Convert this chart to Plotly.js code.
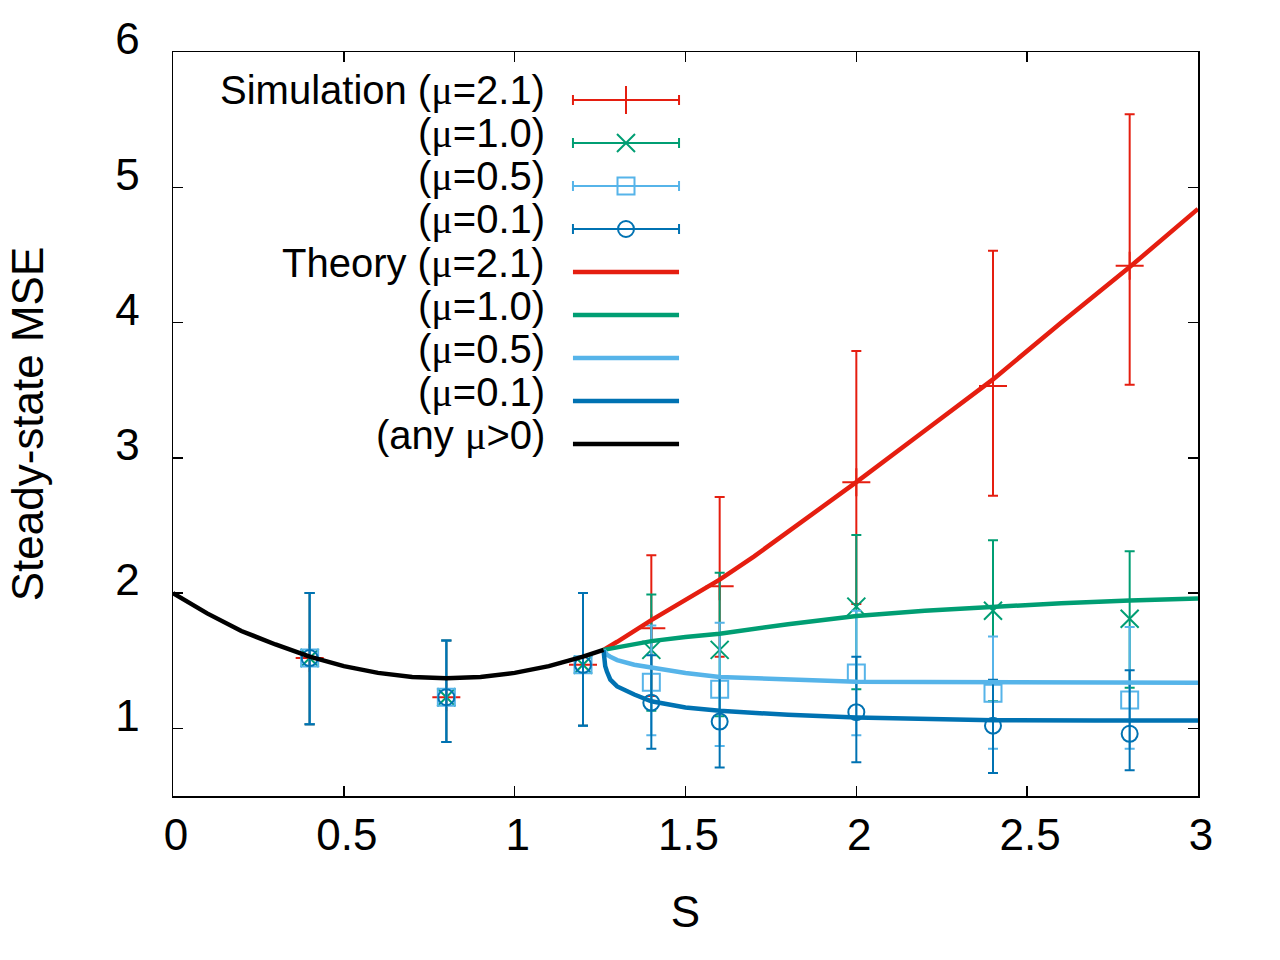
<!DOCTYPE html>
<html>
<head>
<meta charset="utf-8">
<script src="https://cdn.plot.ly/plotly-3.0.1.min.js"></script>
<style>
  body { margin: 0; background: #fff; }
</style>
</head>
<body>
<div id="chart" style="width:1280px;height:960px;"></div>
<script>
// simulation points (x = S), mean and error-bar ends
const simS = [0.4, 0.8, 1.2, 1.4, 1.6, 2.0, 2.4, 2.8];

const sim21 = [1.52, 1.23, 1.47, 1.74, 2.05, 2.82, 3.53, 4.42];
const sim21Hi = [2.00, 1.65, 2.00, 2.28, 2.71, 3.79, 4.53, 5.54];
const sim21Lo = [1.03, 0.90, 1.02, 1.24, 1.53, 1.92, 2.72, 3.54];

const sim10 = [1.52, 1.23, 1.47, 1.58, 1.58, 1.90, 1.87, 1.81];
const sim10Hi = [2.00, 1.65, 2.00, 1.99, 2.15, 2.43, 2.39, 2.31];
const sim10Lo = [1.03, 0.90, 1.02, 1.13, 1.09, 1.29, 1.20, 1.30];

const sim05 = [1.52, 1.23, 1.47, 1.34, 1.29, 1.41, 1.26, 1.21];
const sim05Hi = [2.00, 1.65, 2.00, 1.76, 1.78, 1.87, 1.68, 1.75];
const sim05Lo = [1.03, 0.90, 1.02, 0.95, 0.87, 0.95, 0.85, 0.85];

const sim01 = [1.52, 1.23, 1.47, 1.19, 1.05, 1.12, 1.02, 0.96];
const sim01Hi = [2.00, 1.65, 2.00, 1.54, 1.38, 1.53, 1.36, 1.43];
const sim01Lo = [1.03, 0.90, 1.02, 0.85, 0.71, 0.75, 0.67, 0.69];

// theory curves
const anyS = [0, 0.1, 0.2, 0.3, 0.4, 0.5, 0.6, 0.7, 0.8, 0.9, 1.0, 1.1, 1.2, 1.26];
const anyMSE = [2.00, 1.85, 1.72, 1.62, 1.53, 1.46, 1.41, 1.38, 1.37, 1.38, 1.41, 1.46, 1.53, 1.58];

const th21S = [1.26, 1.3, 1.4, 1.5, 1.6, 1.7, 1.8, 1.9, 2.0, 2.2, 2.4, 2.6, 2.8, 3.0];
const th21 = [1.58, 1.64, 1.80, 1.95, 2.10, 2.27, 2.45, 2.63, 2.82, 3.20, 3.58, 4.00, 4.41, 4.84];

const th10S = [1.26, 1.3, 1.4, 1.5, 1.6, 1.8, 2.0, 2.2, 2.4, 2.6, 2.8, 3.0];
const th10 = [1.58, 1.60, 1.645, 1.675, 1.70, 1.77, 1.83, 1.87, 1.90, 1.925, 1.945, 1.96];

const th05S = [1.26, 1.265, 1.27, 1.28, 1.3, 1.35, 1.4, 1.5, 1.6, 1.8, 2.0, 2.2, 2.4, 2.7, 3.0];
const th05 = [1.58, 1.555, 1.545, 1.53, 1.505, 1.47, 1.45, 1.41, 1.38, 1.36, 1.345, 1.342, 1.34, 1.339, 1.338];

const th01S = [1.26, 1.262, 1.265, 1.27, 1.28, 1.3, 1.35, 1.4, 1.5, 1.6, 1.8, 2.0, 2.2, 2.4, 2.7, 3.0];
const th01 = [1.58, 1.52, 1.46, 1.42, 1.36, 1.31, 1.25, 1.20, 1.155, 1.13, 1.10, 1.08, 1.07, 1.06, 1.059, 1.058];

const MU = '<span style="font-family:\'Liberation Serif\', serif">μ</span>';
const legendLabels = ['Simulation (' + MU + '=2.1)', '(' + MU + '=1.0)', '(' + MU + '=0.5)', '(' + MU + '=0.1)',
  'Theory (' + MU + '=2.1)', '(' + MU + '=1.0)', '(' + MU + '=0.5)', '(' + MU + '=0.1)', '(any ' + MU + '>0)'];

const RED = '#e51e10', GREEN = '#009e73', LBLUE = '#56b4e9', DBLUE = '#0072b2';
const FONT = 'Liberation Sans, Arial, sans-serif';

function diff(a, b) { return a.map((v, i) => +(v - b[i]).toFixed(3)); }

function simTrace(y, hi, lo, color, symbol, size) {
  return {
    x: simS, y: y, type: 'scatter', mode: 'markers', showlegend: false,
    marker: { symbol: symbol, size: size, color: color, line: { color: color, width: 2 } },
    error_y: { type: 'data', symmetric: false, array: diff(hi, y), arrayminus: diff(y, lo),
      color: color, thickness: 2, width: 5 }
  };
}

function theoryTrace(x, y, color) {
  return { x: x, y: y, type: 'scatter', mode: 'lines', showlegend: false,
    line: { color: color, width: 4.5 } };
}

let data = [
  simTrace(sim21, sim21Hi, sim21Lo, RED, 'cross-thin-open', 20),
  simTrace(sim10, sim10Hi, sim10Lo, GREEN, 'x-thin-open', 18),
  simTrace(sim05, sim05Hi, sim05Lo, LBLUE, 'square-open', 17),
  simTrace(sim01, sim01Hi, sim01Lo, DBLUE, 'circle-open', 16),
  theoryTrace(th21S, th21, RED),
  theoryTrace(th10S, th10, GREEN),
  theoryTrace(th05S, th05, LBLUE),
  theoryTrace(th01S, th01, DBLUE),
  theoryTrace(anyS, anyMSE, 'black')
];

// gnuplot-style key: text right-aligned, sample on the right (drawn on a hidden 0..1 overlay axis)
const keyTop = 0.9355, keyStep = 0.0578, keyX0 = 0.3902, keyX1 = 0.4937, keyTextX = 0.3649;
const keyStyles = [
  { c: RED, sym: 'cross-thin-open', sz: 20, err: true },
  { c: GREEN, sym: 'x-thin-open', sz: 18, err: true },
  { c: LBLUE, sym: 'square-open', sz: 17, err: true },
  { c: DBLUE, sym: 'circle-open', sz: 16, err: true },
  { c: RED }, { c: GREEN }, { c: LBLUE }, { c: DBLUE }, { c: 'black' }
];
let annotations = [];
keyStyles.forEach((k, i) => {
  let ky = keyTop - i * keyStep;
  if (k.err) {
    data.push({
      x: [(keyX0 + keyX1) / 2], y: [ky], xaxis: 'x2', yaxis: 'y2', type: 'scatter', mode: 'markers',
      showlegend: false, hoverinfo: 'skip',
      marker: { symbol: k.sym, size: k.sz, color: k.c, line: { color: k.c, width: 2 } },
      error_x: { type: 'constant', value: (keyX1 - keyX0) / 2, color: k.c, thickness: 2, width: 5 }
    });
  } else {
    data.push({
      x: [keyX0, keyX1], y: [ky, ky], xaxis: 'x2', yaxis: 'y2', type: 'scatter', mode: 'lines',
      showlegend: false, hoverinfo: 'skip', line: { color: k.c, width: 4.5 }
    });
  }
  annotations.push({
    xref: 'paper', yref: 'paper', x: keyTextX, y: ky, xanchor: 'right', yanchor: 'middle',
    yshift: 9, showarrow: false, text: legendLabels[i],
    font: { family: FONT, size: 40, color: 'black' }
  });
});

let layout = {
  width: 1280, height: 960,
  paper_bgcolor: 'white', plot_bgcolor: 'white',
  margin: { l: 173, r: 82, t: 52, b: 164 },
  font: { family: FONT, size: 44, color: 'black' },
  showlegend: false,
  xaxis: {
    range: [0, 3], tickvals: [0, 0.5, 1, 1.5, 2, 2.5, 3], ticktext: ['0', '0.5', '1', '1.5', '2', '2.5', '3'],
    ticks: 'inside', ticklen: 10, tickwidth: 1.5, tickcolor: 'black',
    showline: true, linecolor: 'black', linewidth: 1.5, mirror: 'allticks',
    showgrid: false, zeroline: false, ticklabelstandoff: 0, ticklabelshift: 3,
    tickfont: { family: FONT, size: 44 },
    title: { text: 'S', font: { family: FONT, size: 44 }, standoff: 38 }
  },
  yaxis: {
    range: [0.5, 6], tickvals: [1, 2, 3, 4, 5, 6],
    ticks: 'inside', ticklen: 10, tickwidth: 1.5, tickcolor: 'black',
    showline: true, linecolor: 'black', linewidth: 1.5, mirror: 'allticks',
    showgrid: false, zeroline: false, ticklabelstandoff: 23, ticklabelshift: -13,
    tickfont: { family: FONT, size: 44 },
    title: { text: 'Steady-state MSE', font: { family: FONT, size: 44 }, standoff: 58 }
  },
  xaxis2: { overlaying: 'x', anchor: 'y2', range: [0, 1], visible: false, fixedrange: true },
  yaxis2: { overlaying: 'y', anchor: 'x2', range: [0, 1], visible: false, fixedrange: true },
  annotations: annotations
};

Plotly.newPlot('chart', data, layout, { staticPlot: true });
</script>
</body>
</html>
